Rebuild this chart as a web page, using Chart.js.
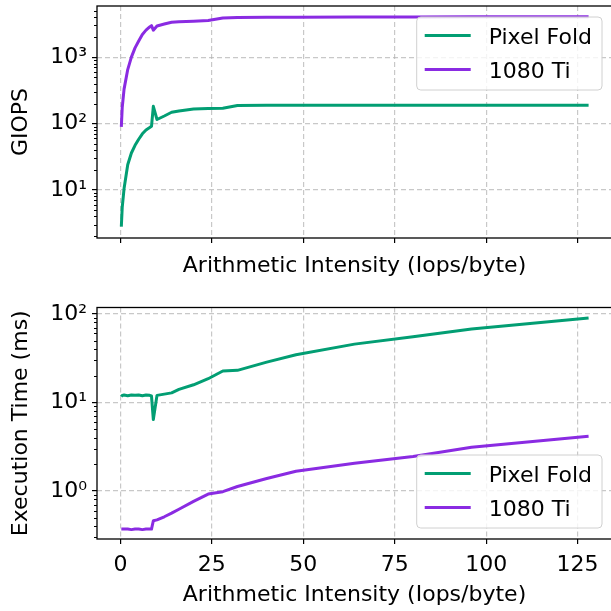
<!DOCTYPE html>
<html>
<head>
<meta charset="utf-8">
<script src="https://cdn.jsdelivr.net/npm/chart.js@4.4.0/dist/chart.umd.min.js"></script>
<style>
  html, body { margin: 0; padding: 0; background: #fff; overflow: hidden; }
  canvas { position: absolute; left: 0; }
  #giops { top: 0; }
  #time { top: 290px; }
</style>
</head>
<body>
<canvas id="giops" width="613" height="290"></canvas>
<canvas id="time" width="613" height="321"></canvas>
<script>
// arithmetic intensity sweep (iops/byte)
const intensity = [0.25, 0.5, 1, 2, 3, 4, 5, 6, 7, 8, 8.5, 9, 10, 12, 14, 16, 20, 24, 28, 32, 40, 48, 64, 80, 96, 112, 128];

// GIOPS
const foldGiops = [2.8, 5.5, 10.5, 24, 36, 47, 58, 70, 80, 87, 91, 182, 115, 130, 148, 155, 165, 168, 170, 187, 188, 188, 188, 188, 188, 188, 188];
const tiGiops = [89, 175, 330, 650, 1000, 1380, 1750, 2200, 2550, 2850, 2980, 2550, 2950, 3150, 3350, 3420, 3480, 3560, 3880, 3950, 3980, 4000, 4020, 4030, 4040, 4040, 4050];

// execution time (ms)
const foldTime = [11.6, 12.0, 12.1, 11.9, 12.1, 12.0, 12.1, 11.9, 12.1, 12.0, 11.8, 6.4, 12.0, 12.4, 12.8, 14.0, 15.8, 18.5, 22.6, 23.0, 28.5, 34.5, 45.5, 55, 67.5, 78, 90];
const tiTime = [0.37, 0.37, 0.37, 0.37, 0.365, 0.37, 0.37, 0.365, 0.37, 0.37, 0.37, 0.46, 0.47, 0.51, 0.56, 0.62, 0.76, 0.92, 0.98, 1.12, 1.38, 1.67, 2.05, 2.45, 3.12, 3.6, 4.15];

const xTicks = [0, 25, 50, 75, 100, 125];
const giopsTicks = [10, 100, 1000];
const giopsLabels = ['10¹', '10²', '10³'];
const timeTicks = [1, 10, 100];
const timeLabels = ['10⁰', '10¹', '10²'];

const green = '#029E73';
const purple = '#8A2BE2';
const gridColor = 'rgba(176,176,176,0.7)';

Chart.defaults.font.family = '"DejaVu Sans"';
Chart.defaults.font.size = 22;
Chart.defaults.color = '#000';

// minor log ticks, full box and an in-plot legend
const frame = {
  id: 'frame',
  afterDatasetsDraw(chart, args, opts) {
    const ctx = chart.ctx, a = chart.chartArea, y = chart.scales.y;
    ctx.save();
    ctx.strokeStyle = '#000';
    ctx.lineWidth = 1;
    const lo = Math.floor(Math.log10(y.min)), hi = Math.ceil(Math.log10(y.max));
    for (let e = lo; e < hi; e++) {
      for (let k = 2; k < 10; k++) {
        const v = k * Math.pow(10, e);
        if (v < y.min || v > y.max) continue;
        const py = Math.round(y.getPixelForValue(v)) + 0.5;
        ctx.beginPath();
        ctx.moveTo(a.left - 3, py);
        ctx.lineTo(a.left, py);
        ctx.stroke();
      }
    }

    // legend
    ctx.font = '22px "DejaVu Sans"';
    const sets = chart.data.datasets;
    const tw = Math.max(...sets.map(d => ctx.measureText(d.label).width));
    const w = 8 + 46 + 18 + tw + 10, h = 73;
    const bx = a.right - 10 - w;
    const by = opts.corner == 'top' ? a.top + 11 : a.bottom - 11 - h;
    ctx.beginPath();
    ctx.roundRect(bx, by, w, h, 4);
    ctx.fillStyle = 'rgba(255,255,255,0.8)';
    ctx.fill();
    ctx.strokeStyle = '#d0d0d0';
    ctx.lineWidth = 1;
    ctx.stroke();
    sets.forEach((d, i) => {
      const ly = by + 18.5 + i * 34;
      ctx.strokeStyle = d.borderColor;
      ctx.lineWidth = 3;
      ctx.beginPath();
      ctx.moveTo(bx + 8, ly);
      ctx.lineTo(bx + 54, ly);
      ctx.stroke();
      ctx.fillStyle = '#000';
      ctx.textBaseline = 'alphabetic';
      ctx.fillText(d.label, bx + 72, ly + 8);
    });

    ctx.strokeStyle = '#000';
    ctx.lineWidth = 1.3;
    ctx.strokeRect(a.left, a.top, a.right - a.left, a.bottom - a.top);
    ctx.restore();
  }
};

function series(label, ys, color) {
  return {
    label: label,
    data: intensity.map((x, i) => ({ x: x, y: ys[i] })),
    borderColor: color,
    borderWidth: 3,
    borderJoinStyle: 'round',
    pointRadius: 0,
    tension: 0,
    fill: false
  };
}

function grid() {
  return { color: gridColor, lineWidth: 1.2, tickColor: '#000', tickLength: 5, tickWidth: 1.2 };
}

function makeChart(id, opt) {
  return new Chart(document.getElementById(id), {
    type: 'line',
    data: { datasets: opt.datasets },
    plugins: [frame],
    options: {
      responsive: false,
      animation: false,
      layout: { padding: { top: opt.padTop, right: 1, left: 0, bottom: 0 } },
      plugins: { legend: { display: false }, tooltip: { enabled: false }, frame: { corner: opt.corner } },
      scales: {
        x: {
          type: 'linear',
          min: -6.4,
          max: 134.4,
          afterBuildTicks: s => { s.ticks = xTicks.map(v => ({ value: v })); },
          afterFit: s => { s.height = opt.xHeight; s.paddingLeft = 0; s.paddingRight = 0; },
          ticks: { display: opt.xLabels, padding: 8, maxRotation: 0, autoSkip: false },
          grid: grid(),
          border: { display: false, dash: [5, 3] },
          title: { display: true, text: 'Arithmetic Intensity (Iops/byte)', padding: { top: 0, bottom: opt.titlePad } }
        },
        y: {
          type: 'logarithmic',
          min: opt.yMin,
          max: opt.yMax,
          afterBuildTicks: s => { s.ticks = opt.yTicks.map(v => ({ value: v })); },
          afterFit: s => { s.width = 97; s.paddingTop = 0; s.paddingBottom = 0; },
          ticks: { autoSkip: false, padding: 5, callback: v => opt.yLabels[opt.yTicks.indexOf(v)] },
          grid: grid(),
          border: { display: false, dash: [5, 3] },
          title: { display: true, text: opt.yTitle, padding: { top: 8, bottom: 0 } }
        }
      }
    }
  });
}

makeChart('giops', {
  datasets: [series('Pixel Fold', foldGiops, green), series('1080 Ti', tiGiops, purple)],
  corner: 'top',
  padTop: 6,
  xHeight: 52,
  xLabels: false,
  titlePad: 10.8,
  yMin: 1.89,
  yMax: 5890,
  yTicks: giopsTicks,
  yLabels: giopsLabels,
  yTitle: 'GIOPS'
});

makeChart('time', {
  datasets: [series('Pixel Fold', foldTime, green), series('1080 Ti', tiTime, purple)],
  corner: 'bottom',
  padTop: 17.5,
  xHeight: 72,
  xLabels: true,
  titlePad: 2.8,
  yMin: 0.286,
  yMax: 118,
  yTicks: timeTicks,
  yLabels: timeLabels,
  yTitle: 'Execution Time (ms)'
});
</script>
</body>
</html>
